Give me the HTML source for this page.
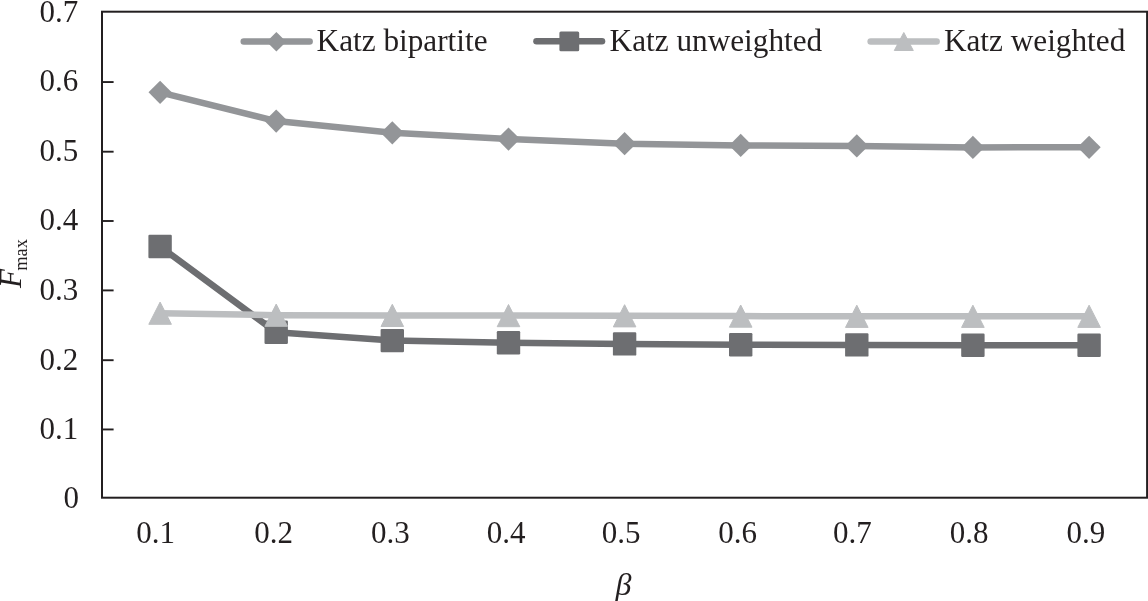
<!DOCTYPE html>
<html><head><meta charset="utf-8"><title>Katz chart</title>
<style>
html,body{margin:0;padding:0;background:#fff;}
body{width:1148px;height:601px;position:relative;overflow:hidden;font-family:"Liberation Serif",serif;color:#231f20;}
.t{position:absolute;white-space:nowrap;line-height:1;font-family:"Liberation Serif",serif;color:#231f20;}
</style></head><body>
<svg width="1148" height="601" viewBox="0 0 1148 601" style="position:absolute;left:0;top:0">
<polyline points="160.1,92.3 276.2,121.1 392.3,132.8 508.5,139.1 624.6,143.7 740.7,145.4 856.8,145.9 972.9,147.4 1089.1,147.3" fill="none" stroke="#939598" stroke-width="6.5" stroke-linejoin="round"/>
<polygon points="160.1,80.7 171.7,92.3 160.1,103.9 148.5,92.3" fill="#939598"/>
<polygon points="276.2,109.5 287.8,121.1 276.2,132.7 264.6,121.1" fill="#939598"/>
<polygon points="392.3,121.2 403.9,132.8 392.3,144.4 380.7,132.8" fill="#939598"/>
<polygon points="508.5,127.5 520.1,139.1 508.5,150.7 496.9,139.1" fill="#939598"/>
<polygon points="624.6,132.1 636.2,143.7 624.6,155.3 613.0,143.7" fill="#939598"/>
<polygon points="740.7,133.8 752.3,145.4 740.7,157.0 729.1,145.4" fill="#939598"/>
<polygon points="856.8,134.3 868.4,145.9 856.8,157.5 845.2,145.9" fill="#939598"/>
<polygon points="972.9,135.8 984.5,147.4 972.9,159.0 961.3,147.4" fill="#939598"/>
<polygon points="1089.1,135.7 1100.7,147.3 1089.1,158.9 1077.5,147.3" fill="#939598"/>
<polyline points="160.1,246.5 276.2,332.3 392.3,340.6 508.5,342.7 624.6,343.9 740.7,344.7 856.8,344.9 972.9,345.3 1089.1,345.3" fill="none" stroke="#6d6e71" stroke-width="6.5" stroke-linejoin="round"/>
<rect x="148.4" y="234.8" width="23.4" height="23.4" rx="1.2" fill="#6d6e71"/>
<rect x="264.5" y="320.6" width="23.4" height="23.4" rx="1.2" fill="#6d6e71"/>
<rect x="380.6" y="328.9" width="23.4" height="23.4" rx="1.2" fill="#6d6e71"/>
<rect x="496.8" y="331.0" width="23.4" height="23.4" rx="1.2" fill="#6d6e71"/>
<rect x="612.9" y="332.2" width="23.4" height="23.4" rx="1.2" fill="#6d6e71"/>
<rect x="729.0" y="333.0" width="23.4" height="23.4" rx="1.2" fill="#6d6e71"/>
<rect x="845.1" y="333.2" width="23.4" height="23.4" rx="1.2" fill="#6d6e71"/>
<rect x="961.2" y="333.6" width="23.4" height="23.4" rx="1.2" fill="#6d6e71"/>
<rect x="1077.4" y="333.6" width="23.4" height="23.4" rx="1.2" fill="#6d6e71"/>
<polyline points="160.1,313.2 276.2,315.2 392.3,315.4 508.5,315.6 624.6,315.8 740.7,316.1 856.8,316.3 972.9,316.3 1089.1,316.3" fill="none" stroke="#bcbec0" stroke-width="6.5" stroke-linejoin="round"/>
<polygon points="160.1,302.1 171.4,324.3 148.8,324.3" fill="#bcbec0" stroke="#bcbec0" stroke-width="1" stroke-linejoin="round"/>
<polygon points="276.2,304.1 287.5,326.3 264.9,326.3" fill="#bcbec0" stroke="#bcbec0" stroke-width="1" stroke-linejoin="round"/>
<polygon points="392.3,304.3 403.6,326.5 381.0,326.5" fill="#bcbec0" stroke="#bcbec0" stroke-width="1" stroke-linejoin="round"/>
<polygon points="508.5,304.5 519.8,326.7 497.2,326.7" fill="#bcbec0" stroke="#bcbec0" stroke-width="1" stroke-linejoin="round"/>
<polygon points="624.6,304.7 635.9,326.9 613.3,326.9" fill="#bcbec0" stroke="#bcbec0" stroke-width="1" stroke-linejoin="round"/>
<polygon points="740.7,305.0 752.0,327.2 729.4,327.2" fill="#bcbec0" stroke="#bcbec0" stroke-width="1" stroke-linejoin="round"/>
<polygon points="856.8,305.2 868.1,327.4 845.5,327.4" fill="#bcbec0" stroke="#bcbec0" stroke-width="1" stroke-linejoin="round"/>
<polygon points="972.9,305.2 984.2,327.4 961.6,327.4" fill="#bcbec0" stroke="#bcbec0" stroke-width="1" stroke-linejoin="round"/>
<polygon points="1089.1,305.2 1100.4,327.4 1077.8,327.4" fill="#bcbec0" stroke="#bcbec0" stroke-width="1" stroke-linejoin="round"/>
<line x1="243.8" y1="41.5" x2="309.6" y2="41.5" stroke="#939598" stroke-width="6.6" stroke-linecap="round"/>
<polygon points="276.4,31.9 286.2,41.7 276.4,51.5 266.6,41.7" fill="#939598"/>
<line x1="536.5" y1="41.3" x2="602.0" y2="41.3" stroke="#6d6e71" stroke-width="6.6" stroke-linecap="round"/>
<rect x="559.4" y="31.4" width="19.8" height="19.8" rx="1.5" fill="#6d6e71"/>
<line x1="870.7" y1="41.5" x2="936.6" y2="41.5" stroke="#bcbec0" stroke-width="6.6" stroke-linecap="round"/>
<polygon points="903.8,32.5 913.3,50.5 894.3,50.5" fill="#bcbec0" stroke="#bcbec0" stroke-width="1" stroke-linejoin="round"/>
<rect x="102" y="11.7" width="1045.1" height="486" fill="none" stroke="#231f20" stroke-width="2"/>
<line x1="102" y1="82.05" x2="113.6" y2="82.05" stroke="#231f20" stroke-width="1.9"/>
<line x1="102" y1="151.7" x2="113.6" y2="151.7" stroke="#231f20" stroke-width="1.9"/>
<line x1="102" y1="221.0" x2="113.6" y2="221.0" stroke="#231f20" stroke-width="1.9"/>
<line x1="102" y1="290.4" x2="113.6" y2="290.4" stroke="#231f20" stroke-width="1.9"/>
<line x1="102" y1="360.2" x2="113.6" y2="360.2" stroke="#231f20" stroke-width="1.9"/>
<line x1="102" y1="429.45" x2="113.6" y2="429.45" stroke="#231f20" stroke-width="1.9"/>
</svg>
<div id="labels" style="position:absolute;left:0;top:0;width:1148px;height:601px;will-change:transform;">
<div class="t" style="left:39.42px;top:-4.05px;font-size:31px;">0.7</div>
<div class="t" style="left:39.42px;top:65.40px;font-size:31px;">0.6</div>
<div class="t" style="left:39.42px;top:135.05px;font-size:31px;">0.5</div>
<div class="t" style="left:39.42px;top:204.35px;font-size:31px;">0.4</div>
<div class="t" style="left:39.42px;top:273.75px;font-size:31px;">0.3</div>
<div class="t" style="left:39.42px;top:343.55px;font-size:31px;">0.2</div>
<div class="t" style="left:39.42px;top:412.80px;font-size:31px;">0.1</div>
<div class="t" style="left:63.52px;top:481.90px;font-size:31px;">0</div>
<div class="t" style="left:136.32px;top:516.80px;font-size:31px;">0.1</div>
<div class="t" style="left:254.22px;top:516.80px;font-size:31px;">0.2</div>
<div class="t" style="left:371.02px;top:516.80px;font-size:31px;">0.3</div>
<div class="t" style="left:486.82px;top:516.80px;font-size:31px;">0.4</div>
<div class="t" style="left:601.72px;top:516.80px;font-size:31px;">0.5</div>
<div class="t" style="left:718.22px;top:516.80px;font-size:31px;">0.6</div>
<div class="t" style="left:832.92px;top:516.80px;font-size:31px;">0.7</div>
<div class="t" style="left:949.72px;top:516.80px;font-size:31px;">0.8</div>
<div class="t" style="left:1066.52px;top:516.80px;font-size:31px;">0.9</div>
<div class="t" style="left:316.61px;top:24.79px;font-size:31.25px;">Katz bipartite</div>
<div class="t" style="left:609.61px;top:24.79px;font-size:31.25px;">Katz unweighted</div>
<div class="t" style="left:943.91px;top:24.79px;font-size:31.25px;">Katz weighted</div>
<div class="t" style="left:615.60px;top:567.66px;font-size:32px;font-style:italic;">&beta;</div>
<div style="position:absolute;left:21.2px;top:288.2px;width:0;height:0;transform:rotate(-90deg);transform-origin:0 0;"><div class="t" style="left:0;top:-26px;font-size:31px;"><span style="font-style:italic">F</span><span style="font-size:18.4px;position:relative;top:5.9px;margin-left:-1.7px;">max</span></div></div>
</div>
</body></html>
